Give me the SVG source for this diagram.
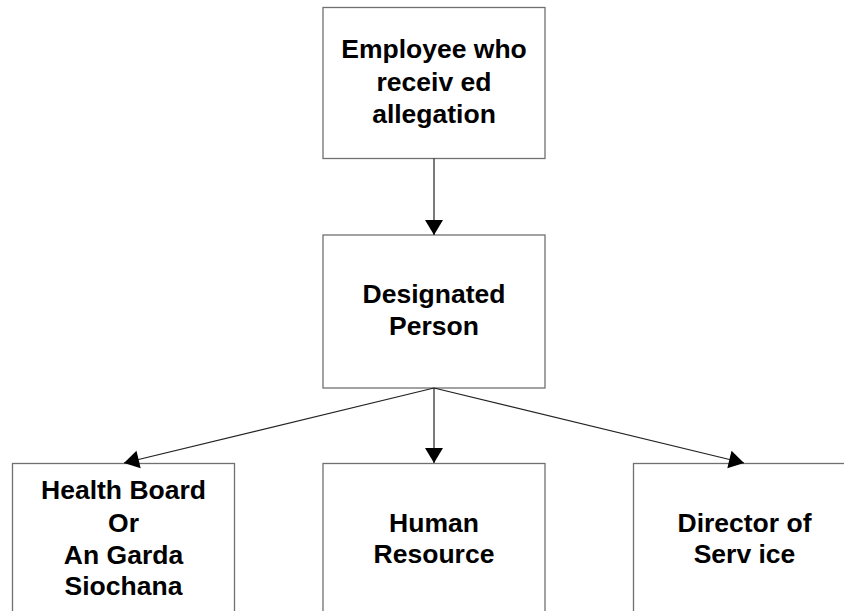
<svg xmlns="http://www.w3.org/2000/svg" width="844" height="611" viewBox="0 0 844 611">
<style>
.box{fill:#fff;stroke:#707070;stroke-width:1.3}
.t{font-family:"Liberation Sans",Arial,sans-serif;font-weight:bold;font-size:26.5px;fill:#000;text-anchor:middle}
.c{stroke:#222;stroke-width:1.2;fill:none}
</style>
<defs>
<marker id="ah" markerUnits="userSpaceOnUse" markerWidth="16" markerHeight="18" refX="15" refY="9" orient="auto" overflow="visible">
<path d="M0,0 L15,9 L0,18 z" fill="#000"/>
</marker>
</defs>
<rect width="844" height="611" fill="#fff"/>
<g id="n1">
<rect class="box" x="323" y="7.5" width="222" height="151"/>
<text class="t" x="434" y="58">Employee who</text>
<text class="t" x="434" y="91">receiv ed</text>
<text class="t" x="434" y="123">allegation</text>
</g>
<g id="n2">
<rect class="box" x="323" y="235" width="222" height="153"/>
<text class="t" x="434" y="303">Designated</text>
<text class="t" x="434" y="335">Person</text>
</g>
<g id="n3">
<rect class="box" x="12.5" y="463.5" width="222" height="160"/>
<text class="t" x="123.5" y="499">Health Board</text>
<text class="t" x="123.5" y="531.5">Or</text>
<text class="t" x="123.5" y="564">An Garda</text>
<text class="t" x="123.5" y="595">Siochana</text>
</g>
<g id="n4">
<rect class="box" x="323" y="463.5" width="222" height="160"/>
<text class="t" x="434" y="531.5">Human</text>
<text class="t" x="434" y="563">Resource</text>
</g>
<g id="n5">
<rect class="box" x="633.5" y="463.5" width="222" height="160"/>
<text class="t" x="744.5" y="531.5">Director of</text>
<text class="t" x="744.5" y="563">Serv ice</text>
</g>
<g id="connectors">
<line class="c" x1="434" y1="158.5" x2="434" y2="235" marker-end="url(#ah)"/>
<line class="c" x1="434" y1="388" x2="124" y2="463" marker-end="url(#ah)"/>
<line class="c" x1="434" y1="388" x2="434" y2="463" marker-end="url(#ah)"/>
<line class="c" x1="434" y1="388" x2="744" y2="463" marker-end="url(#ah)"/>
</g>
</svg>
